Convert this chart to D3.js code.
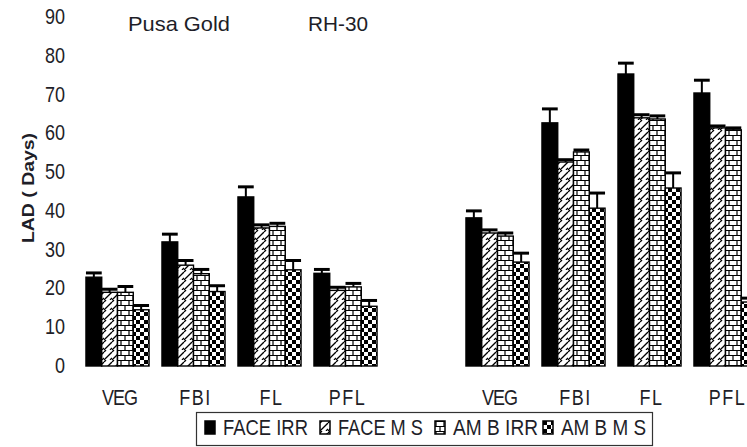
<!DOCTYPE html>
<html>
<head>
<meta charset="utf-8">
<script src="https://cdn.jsdelivr.net/npm/d3@7"></script>
<style>
  body { margin: 0; background: #fff; }
  text { font-family: "Liberation Sans", Arial, sans-serif; fill: #1e1e28; }
</style>
</head>
<body>
<div id="chart"></div>
<script>
// stages of crop growth, repeated for each cultivar
const stages = ['VEG', 'FBI', 'FL', 'PFL'];
const cultivars = ['Pusa Gold', 'RH-30'];
const treatments = ['FACE IRR', 'FACE M S', 'AM B IRR', 'AM B M S'];
const yTicks = [0, 10, 20, 30, 40, 50, 60, 70, 80, 90];

// LAD (days), one row per treatment, columns = stages
const pusaGold = [
  [22.9, 32.0, 43.6, 23.9],
  [19.0, 26.0, 35.6, 19.5],
  [19.0, 23.8, 36.0, 20.4],
  [14.5, 19.2, 24.8, 15.4]
];
const pusaGoldErr = [
  [1.1, 2.0, 2.6, 1.0],
  [0.8, 1.2, 0.8, 0.8],
  [1.5, 1.1, 0.8, 0.9],
  [1.1, 1.5, 2.4, 1.5]
];
const rh30 = [
  [38.2, 62.7, 75.3, 70.4],
  [34.3, 52.6, 64.0, 61.4],
  [33.5, 55.2, 63.7, 60.9],
  [26.8, 40.7, 45.9, 16.5]
];
const rh30Err = [
  [1.8, 3.6, 2.8, 3.3],
  [0.8, 0.6, 0.8, 0.5],
  [0.8, 0.5, 0.8, 0.5],
  [2.3, 3.9, 3.9, 1.0]
];

const width = 747, height = 447;
const svg = d3.select('#chart').append('svg')
  .attr('width', width)
  .attr('height', height);

// fill patterns, one per treatment
const defs = svg.append('defs');
const zig = defs.append('pattern').attr('id', 'p-zig')
  .attr('patternUnits', 'userSpaceOnUse').attr('width', 8).attr('height', 10);
zig.append('rect').attr('width', 8).attr('height', 10).attr('fill', '#fff');
zig.append('path').attr('d', 'M0,10 L8,2 M0,2 L2,0 M6,10 L8,8')
  .attr('stroke', '#000').attr('stroke-width', 1.3).attr('fill', 'none');

const brick = defs.append('pattern').attr('id', 'p-brick')
  .attr('patternUnits', 'userSpaceOnUse').attr('width', 8).attr('height', 10);
brick.append('rect').attr('width', 8).attr('height', 10).attr('fill', '#fff');
brick.append('path').attr('d', 'M0,0.5 H8 M0,5.5 H8 M1,0 V5 M5,5 V10')
  .attr('stroke', '#000').attr('stroke-width', 1.2).attr('fill', 'none');

const check = defs.append('pattern').attr('id', 'p-check')
  .attr('patternUnits', 'userSpaceOnUse').attr('width', 8).attr('height', 8);
check.append('rect').attr('width', 8).attr('height', 8).attr('fill', '#fff');
check.append('rect').attr('width', 4).attr('height', 4).attr('fill', '#000');
check.append('rect').attr('x', 4).attr('y', 4).attr('width', 4).attr('height', 4).attr('fill', '#000');

const fills = ['#000', 'url(#p-zig)', 'url(#p-brick)', 'url(#p-check)'];

// one slot per stage, with an empty slot between the two cultivars
const slots = [];
cultivars.forEach((c, ci) => {
  stages.forEach(s => slots.push(c + '|' + s));
  if (ci < cultivars.length - 1) slots.push('gap');
});

const x = d3.scaleBand()
  .domain(slots)
  .range([79.5, 763.5])
  .paddingInner(0.17)
  .paddingOuter(0.085);

const xSub = d3.scaleBand()
  .domain(treatments)
  .range([0, x.bandwidth()]);

const y = d3.scaleLinear()
  .domain([0, 90])
  .range([366, 17]);

// y axis: labels only
const yAxis = svg.append('g')
  .attr('transform', 'translate(68,0)')
  .call(d3.axisLeft(y).tickValues(yTicks).tickSize(0).tickPadding(3));
yAxis.select('.domain').remove();
yAxis.selectAll('text')
  .attr('font-size', 18)
  .attr('font-family', '"Liberation Sans", Arial, sans-serif')
  .attr('fill', '#1e1e28')
  .attr('dy', '0.3em')
  .attr('transform', 'scale(1,1.2)');

svg.append('text')
  .attr('transform', 'translate(34,188) rotate(-90)')
  .attr('text-anchor', 'middle')
  .attr('font-size', 16)
  .attr('font-weight', 'bold')
  .attr('textLength', 110)
  .attr('lengthAdjust', 'spacingAndGlyphs')
  .attr('fill', '#000')
  .text('LAD ( Days)');

// flatten data into bars
const bars = [];
[[pusaGold, pusaGoldErr], [rh30, rh30Err]].forEach(([vals, errs], ci) => {
  treatments.forEach((t, ti) => {
    stages.forEach((s, si) => {
      bars.push({ slot: cultivars[ci] + '|' + s, treatment: t, ti: ti, value: vals[ti][si], err: errs[ti][si] });
    });
  });
});

const barG = svg.append('g');
barG.selectAll('rect')
  .data(bars)
  .join('rect')
  .attr('x', d => x(d.slot) + xSub(d.treatment))
  .attr('y', d => y(d.value))
  .attr('width', xSub.bandwidth())
  .attr('height', d => y(0) - y(d.value))
  .attr('fill', d => fills[d.ti])
  .attr('stroke', '#000')
  .attr('stroke-width', 1.4);

// upper error bars
const errG = svg.append('g').attr('stroke', '#000');
errG.selectAll('line.stem')
  .data(bars)
  .join('line')
  .attr('class', 'stem')
  .attr('x1', d => x(d.slot) + xSub(d.treatment) + xSub.bandwidth() / 2)
  .attr('x2', d => x(d.slot) + xSub(d.treatment) + xSub.bandwidth() / 2)
  .attr('y1', d => y(d.value))
  .attr('y2', d => y(d.value + d.err))
  .attr('stroke-width', 2);
errG.selectAll('line.cap')
  .data(bars)
  .join('line')
  .attr('class', 'cap')
  .attr('x1', d => x(d.slot) + xSub(d.treatment))
  .attr('x2', d => x(d.slot) + xSub(d.treatment) + xSub.bandwidth())
  .attr('y1', d => y(d.value + d.err))
  .attr('y2', d => y(d.value + d.err))
  .attr('stroke-width', 3);

// stage labels under each group
svg.append('g').selectAll('text')
  .data(slots.filter(s => s !== 'gap'))
  .join('text')
  .attr('transform', d => `translate(${x(d) + x.bandwidth() / 2 + 2},405) scale(1,1.2)`)
  .attr('text-anchor', 'middle')
  .attr('font-size', 18)
  .attr('letter-spacing', d => d.endsWith('VEG') ? -1 : 1.5)
  .text(d => d.split('|')[1]);

// cultivar titles
svg.append('text')
  .attr('transform', 'translate(128,31)')
  .attr('font-family', 'Lato, "Open Sans", sans-serif')
  .attr('font-size', 21)
  .attr('textLength', 102)
  .attr('lengthAdjust', 'spacingAndGlyphs')
  .attr('fill', '#1e1e28')
  .text(cultivars[0]);
svg.append('text')
  .attr('transform', 'translate(308,31)')
  .attr('font-family', 'Lato, "Open Sans", sans-serif')
  .attr('font-size', 21)
  .attr('textLength', 60)
  .attr('lengthAdjust', 'spacingAndGlyphs')
  .attr('fill', '#1e1e28')
  .text(cultivars[1]);

// legend
const legend = svg.append('g');
legend.append('rect')
  .attr('x', 196.5).attr('y', 412.5)
  .attr('width', 456).attr('height', 33)
  .attr('fill', '#fff').attr('stroke', '#333').attr('stroke-width', 1.2);
const legendX = [205, 320, 435, 543];
const item = legend.selectAll('g.item')
  .data(treatments)
  .join('g')
  .attr('class', 'item')
  .attr('transform', (d, i) => `translate(${legendX[i]},421)`);
item.append('rect')
  .attr('width', 10).attr('height', 13)
  .attr('fill', (d, i) => fills[i])
  .attr('stroke', '#000').attr('stroke-width', 1.5);
item.append('text')
  .attr('transform', 'translate(18,14) scale(1,1.2)')
  .attr('font-size', 18)
  .attr('textLength', 85)
  .attr('lengthAdjust', 'spacingAndGlyphs')
  .text(d => d);
</script>
</body>
</html>
